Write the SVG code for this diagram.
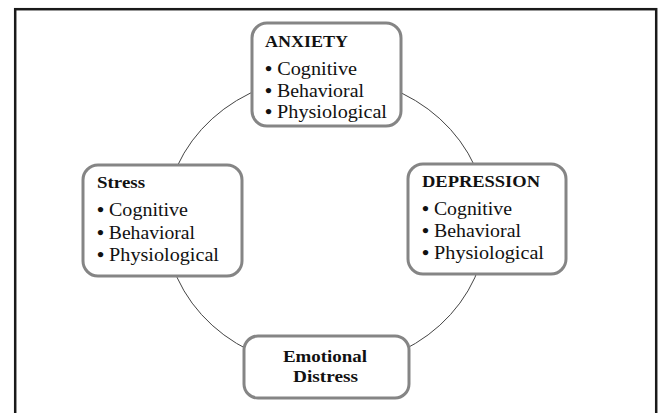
<svg xmlns="http://www.w3.org/2000/svg" width="660" height="413" viewBox="0 0 660 413">
<style>
.frame{fill:#fff;stroke:#1a1a1a;stroke-width:2.5}
.box{fill:#fff;stroke:#858585;stroke-width:3}
.conn{fill:none;stroke:#444;stroke-width:1}
.hd{font-family:"Liberation Serif","Times New Roman",serif;font-weight:bold;font-size:16px;fill:#111}
.it{font-family:"Liberation Serif","Times New Roman",serif;font-size:18px;fill:#111}
.b{font-weight:bold}
</style>
<rect width="660" height="413" fill="#fff"/>
<rect class="frame" x="15.2" y="9.2" width="641" height="430"/>
<g id="connectors">
<ellipse class="conn" cx="326" cy="222" rx="161" ry="146"/>
</g>
<g id="anxiety">
<rect class="box" x="252" y="23" width="149" height="103" rx="15"/>
<text class="hd" x="265" y="47" textLength="83" lengthAdjust="spacingAndGlyphs">ANXIETY</text>
<text class="it" x="265" y="75" textLength="92" lengthAdjust="spacingAndGlyphs"><tspan class="b">•</tspan> Cognitive</text>
<text class="it" x="265" y="96.5" textLength="99" lengthAdjust="spacingAndGlyphs"><tspan class="b">•</tspan> Behavioral</text>
<text class="it" x="265" y="118" textLength="122" lengthAdjust="spacingAndGlyphs"><tspan class="b">•</tspan> Physiological</text>
</g>
<g id="stress">
<rect class="box" x="83" y="165" width="159" height="111" rx="15"/>
<text class="hd" x="97" y="188" textLength="48" lengthAdjust="spacingAndGlyphs">Stress</text>
<text class="it" x="97" y="216" textLength="91" lengthAdjust="spacingAndGlyphs"><tspan class="b">•</tspan> Cognitive</text>
<text class="it" x="97" y="239" textLength="98" lengthAdjust="spacingAndGlyphs"><tspan class="b">•</tspan> Behavioral</text>
<text class="it" x="97" y="261" textLength="122" lengthAdjust="spacingAndGlyphs"><tspan class="b">•</tspan> Physiological</text>
</g>
<g id="depression">
<rect class="box" x="408" y="164" width="158" height="110" rx="15"/>
<text class="hd" x="422" y="187" textLength="118" lengthAdjust="spacingAndGlyphs">DEPRESSION</text>
<text class="it" x="422" y="215" textLength="90" lengthAdjust="spacingAndGlyphs"><tspan class="b">•</tspan> Cognitive</text>
<text class="it" x="422" y="237" textLength="99" lengthAdjust="spacingAndGlyphs"><tspan class="b">•</tspan> Behavioral</text>
<text class="it" x="422" y="259" textLength="122" lengthAdjust="spacingAndGlyphs"><tspan class="b">•</tspan> Physiological</text>
</g>
<g id="emotional-distress">
<rect class="box" x="244" y="336" width="165" height="62" rx="14"/>
<text class="hd" x="283" y="362" textLength="84" lengthAdjust="spacingAndGlyphs">Emotional</text>
<text class="hd" x="293" y="382" textLength="65" lengthAdjust="spacingAndGlyphs">Distress</text>
</g>
</svg>
